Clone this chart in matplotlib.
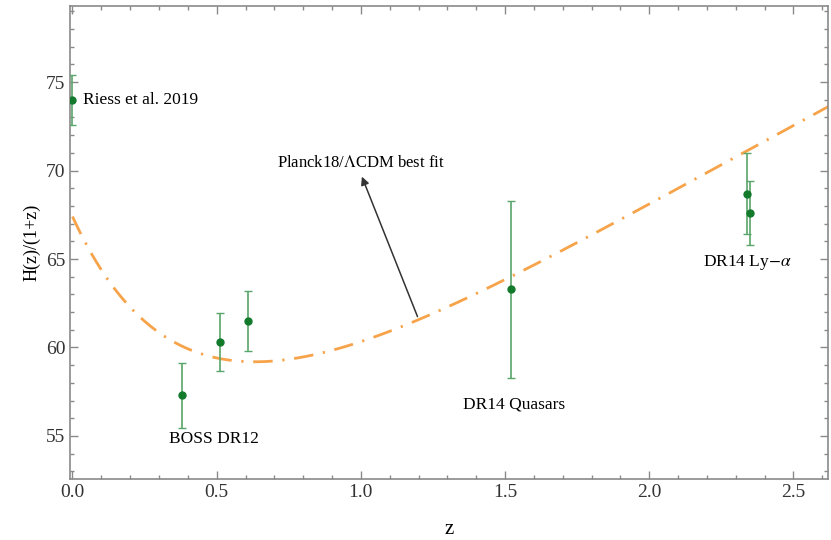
"""H(z)/(1+z) measurements against the Planck18 LCDM expansion history"""
import matplotlib
matplotlib.use('Agg')
import matplotlib.pyplot as plt
import numpy as np
from matplotlib.ticker import MultipleLocator, FormatStrFormatter

plt.rcParams['font.family'] = ['Liberation Serif', 'DejaVu Serif']
plt.rcParams['mathtext.fontset'] = 'stix'

# measurements: redshift, H(z)/(1+z) and 1-sigma errors
z_obs = [0.0, 0.38, 0.51, 0.61, 1.52, 2.34, 2.35]
h_obs = [74.0, 57.3, 60.3, 61.5, 63.3, 68.7, 67.6]
h_err = [1.42, 1.85, 1.65, 1.7, 5.0, 2.3, 1.8]

# Planck18 flat LCDM parameters
H0_PLANCK = 67.4
OMEGA_M = 0.315

z_model = np.linspace(0.0, 2.7, 400)
h_model = H0_PLANCK * np.sqrt(OMEGA_M * (1 + z_model) ** 3 + 1 - OMEGA_M) / (1 + z_model)

FRAME = '#8a8a8a'
FS = 12.5

fig = plt.figure(figsize=(8.31, 5.40), dpi=100)
ax = fig.add_axes([0.0848, 0.113, 0.9116, 0.876])

ax.plot(z_model, h_model, color='#f7a34a', lw=2.0,
        dashes=(7, 3.5, 0.8, 3.5), zorder=2)

ax.errorbar(z_obs, h_obs, yerr=h_err, fmt='o', ms=5, color='#137a2c',
            ecolor='#5aa56a', elinewidth=1.2, capsize=3, capthick=1.0, zorder=3)

ax.text(0.035, 74.0, 'Riess et al. 2019', fontsize=FS, va='center', ha='left')
ax.text(0.49, 54.85, 'BOSS DR12', fontsize=FS, va='center', ha='center')
ax.text(1.53, 56.8, 'DR14 Quasars', fontsize=FS, va='center', ha='center')
ax.text(2.34, 64.8, r'DR14 Ly$-\alpha$', fontsize=FS, va='center', ha='center')
ax.text(1.0, 70.45, r'Planck18/$\Lambda$CDM best fit', fontsize=12,
        ha='center', va='center')
ax.annotate('', xy=(1.0, 69.8), xytext=(1.2, 61.6),
            arrowprops=dict(arrowstyle='-|>', color='#333333', lw=1.1,
                            mutation_scale=12))

ax.set_xlim(-0.007, 2.62)
ax.set_ylim(52.57, 79.3)
ax.xaxis.set_major_locator(MultipleLocator(0.5))
ax.xaxis.set_minor_locator(MultipleLocator(0.1))
ax.yaxis.set_major_locator(MultipleLocator(5))
ax.yaxis.set_minor_locator(MultipleLocator(1))
ax.xaxis.set_major_formatter(FormatStrFormatter('%.1f'))

ax.tick_params(which='both', direction='in', top=True, right=True,
               color=FRAME, labelsize=14, labelcolor='#333333', width=1.0)
ax.tick_params(which='major', length=6)
ax.tick_params(which='minor', length=3)
for spine in ax.spines.values():
    spine.set_color(FRAME)
    spine.set_linewidth(1.2)

ax.set_xlabel('z', fontsize=15, labelpad=14)
ax.set_ylabel('H(z)/(1+z)', fontsize=13, labelpad=4)

fig.savefig('out.png', dpi=100)
